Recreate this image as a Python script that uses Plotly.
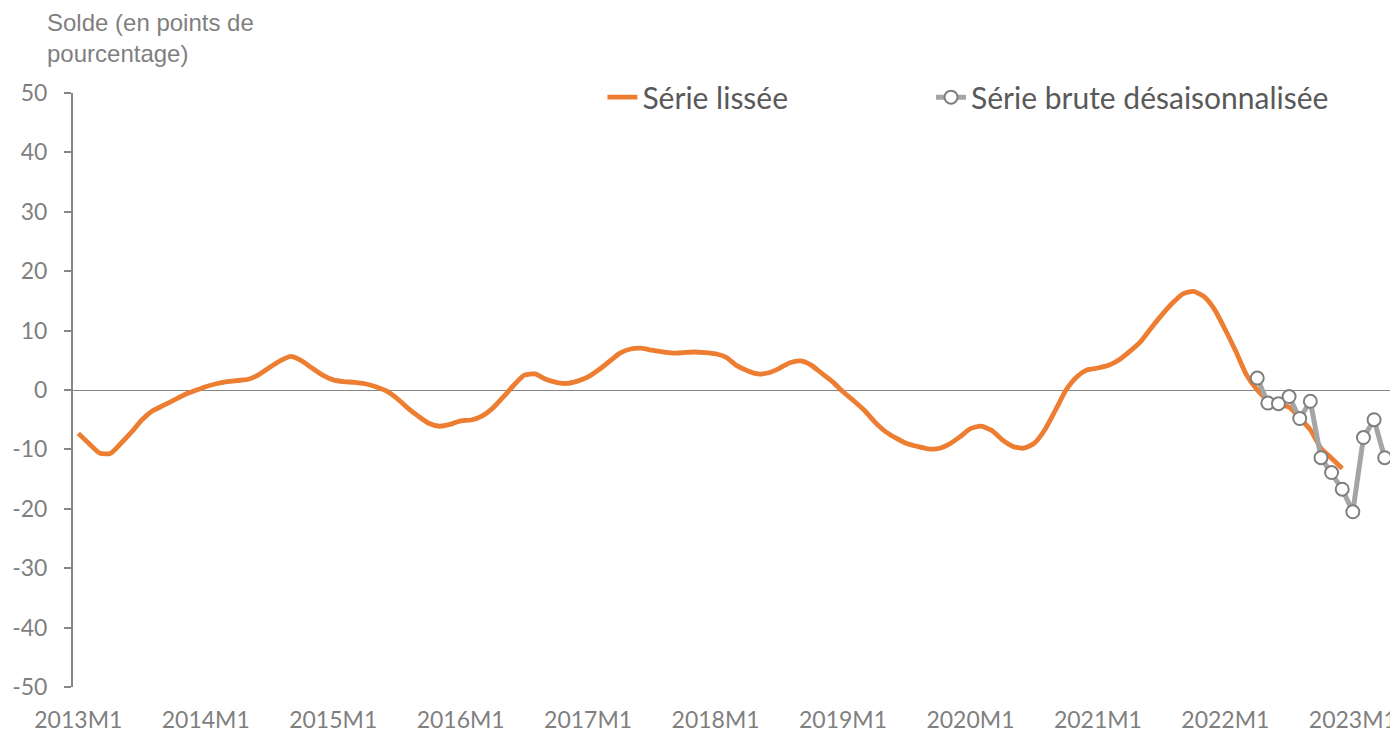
import plotly.graph_objects as go

# ---- data ----
years = list(range(2013, 2024))
months = [f"{y}M{m}" for y in years for m in range(1, 13)][:124]

tick_labels = ["2013M1", "2014M1", "2015M1", "2016M1", "2017M1", "2018M1",
               "2019M1", "2020M1", "2021M1", "2022M1", "2023M1"]

serie_lissee = [
    -7.3, -9.0, -10.6, -10.7, -9.0, -7.1, -5.0, -3.5, -2.6, -1.7, -0.8, -0.1,
    0.55, 1.05, 1.4, 1.6, 1.8, 2.6, 3.8, 4.9, 5.65, 4.95, 3.7, 2.5,
    1.7, 1.4, 1.3, 1.05, 0.55, -0.15, -1.4, -3.0, -4.4, -5.6, -6.1, -5.8,
    -5.2, -5.05, -4.4, -3.1, -1.2, 0.8, 2.5, 2.7, 1.8, 1.3, 1.1, 1.5,
    2.2, 3.4, 4.8, 6.2, 6.9, 7.05, 6.7, 6.4, 6.2, 6.3, 6.4, 6.3,
    6.1, 5.5, 4.1, 3.25, 2.7, 2.9, 3.65, 4.6, 4.9, 4.2, 2.8, 1.4,
    -0.3, -1.8, -3.4, -5.4, -7.0, -8.1, -9.0, -9.5, -9.9, -9.85, -9.1, -7.9,
    -6.5, -6.1, -6.8, -8.4, -9.5, -9.8, -9.0, -6.7, -3.4, 0.0, 2.2, 3.4,
    3.7, 4.15, 5.1, 6.5, 8.1, 10.4, 12.6, 14.6, 16.2, 16.6, 15.7, 13.5,
    10.1, 6.45, 2.5, 0.0, -1.7, -2.4, -2.9, -4.7, -6.7, -9.8, -11.5, -13.2,
]

serie_brute = [2.0, -2.2, -2.3, -1.1, -4.8, -1.9, -11.4, -13.9, -16.7,
               -20.5, -8.0, -5.0, -11.4]
brute_start = 111  # 2022M4

y_ticks = [-50, -40, -30, -20, -10, 0, 10, 20, 30, 40, 50]
y_tick_labels = ["-50", "-40", "-30", "-20", "-10", "0", "10", "20", "30", "40", "50"]

# ---- figure ----
fig = go.Figure()
fig.add_trace(go.Scatter(
    x=months[:len(serie_lissee)], y=serie_lissee, mode="lines",
    name="Série lissée", legend="legend",
    line=dict(color="#ED7D31", width=4.8, shape="spline", smoothing=0.6),
))
fig.add_trace(go.Scatter(
    x=months[brute_start:brute_start + len(serie_brute)], y=serie_brute,
    mode="lines+markers", name="Série brute désaisonnalisée", legend="legend2",
    line=dict(color="#A5A5A5", width=5),
    marker=dict(size=13, color="white", line=dict(color="#7F7F7F", width=2)),
))

legend_font = dict(size=30, color="#595959", family="Lato, sans-serif")
fig.update_layout(
    width=1390, height=725,
    margin=dict(l=65, r=8, t=85, b=46),
    paper_bgcolor="white", plot_bgcolor="white",
    font=dict(family="Lato, sans-serif", color="#7F7F7F", size=23),
    showlegend=True,
    legend=dict(
        orientation="h", x=0.402, xanchor="left", y=0.993, yanchor="middle",
        font=legend_font, bgcolor="rgba(0,0,0,0)",
    ),
    legend2=dict(
        orientation="h", x=0.6515, xanchor="left", y=0.993, yanchor="middle",
        font=legend_font, bgcolor="rgba(0,0,0,0)",
    ),
    annotations=[dict(
        text="Solde (en points de<br>pourcentage)", xref="paper", yref="paper",
        x=-0.0215, y=1.0, xanchor="left", yanchor="bottom", align="left",
        yshift=24, showarrow=False,
        font=dict(family="Liberation Sans, Arial, sans-serif", size=24, color="#7F7F7F"),
    )],
)

fig.update_xaxes(
    type="category", categoryorder="array", categoryarray=months,
    range=[-0.5, len(months) - 0.5], automargin=False,
    tickmode="array", tickvals=[months[12 * k] for k in range(len(tick_labels))],
    ticktext=tick_labels, showgrid=False, showline=False, ticks="",
    zeroline=False, tickfont=dict(size=23, color="#7F7F7F"),
    ticklabelstandoff=17,
)
fig.update_yaxes(
    range=[-50, 50], tickmode="array", tickvals=y_ticks, ticktext=y_tick_labels,
    showgrid=False, automargin=False,
    showline=True, linecolor="#868686", linewidth=2,
    ticks="outside", ticklen=7, tickcolor="#868686", tickwidth=2,
    zeroline=True, zerolinecolor="#868686", zerolinewidth=1.3,
    tickfont=dict(size=23, color="#7F7F7F"), ticklabelstandoff=12,
)

fig.write_html("out.html")
